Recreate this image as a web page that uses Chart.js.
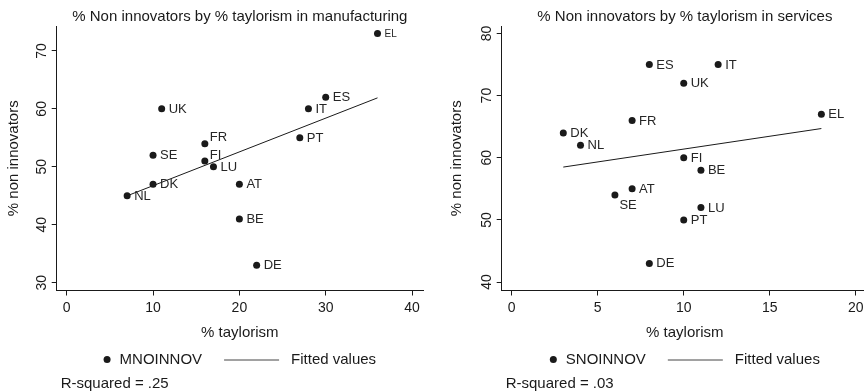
<!DOCTYPE html>
<html>
<head>
<meta charset="utf-8">
<script src="https://cdn.jsdelivr.net/npm/chart.js@4.4.1/dist/chart.umd.min.js"></script>
<style>
  html, body { margin: 0; padding: 0; background: #fff; overflow: hidden; width: 864px; height: 391px; }
  .panel { position: absolute; top: 0; }
  #mfgPanel { left: 0; }
  #svcPanel { left: 445px; }
</style>
</head>
<body>
<div class="panel" id="mfgPanel"><canvas id="mfgChart" width="440" height="391"></canvas></div>
<div class="panel" id="svcPanel"><canvas id="svcChart" width="440" height="391"></canvas></div>
<script>
// manufacturing panel
const mfgCountries = ["EL", "ES", "IT", "UK", "FR", "PT", "SE", "FI", "LU", "DK", "AT", "NL", "BE", "DE"];
const mfgTaylorism = [36, 30, 28, 11, 16, 27, 10, 16, 17, 10, 20, 7, 20, 22];
const mfgNonInnov = [73, 62, 60, 60, 54, 55, 52, 51, 50, 47, 47, 45, 41, 33];
const mfgFitX = [7, 36];
const mfgFitY = [45.0, 61.9];
const mfgXTicks = [0, 10, 20, 30, 40];
const mfgYTicks = [30, 40, 50, 60, 70];

// services panel
const svcCountries = ["ES", "IT", "UK", "EL", "FR", "DK", "NL", "FI", "BE", "AT", "SE", "LU", "PT", "DE"];
const svcTaylorism = [8, 12, 10, 18, 7, 3, 4, 10, 11, 7, 6, 11, 10, 8];
const svcNonInnov = [75, 75, 72, 67, 66, 64, 62, 60, 58, 55, 54, 52, 50, 43];
const svcFitX = [3, 18];
const svcFitY = [58.5, 64.7];
const svcXTicks = [0, 5, 10, 15, 20];
const svcYTicks = [40, 50, 60, 70, 80];

// marker label placement (clock positions, like mlabvpos)
const mfgLabelPos = [3, 3, 3, 3, 2, 3, 3, 2, 3, 3, 3, 3, 3, 3];
const svcLabelPos = [3, 3, 3, 3, 3, 3, 3, 3, 3, 3, 4, 3, 3, 3];
const mfgSmallLabels = ["EL"];

const FONT = '"Liberation Sans", Arial, Helvetica, sans-serif';
const INK = "#1a1a1a";

const clockOffsets = {
  2: { dx: 5, dy: -6 },
  3: { dx: 7, dy: 0.5 },
  4: { dx: 4.5, dy: 10 },
};

const pointLabels = {
  id: "pointLabels",
  afterDatasetsDraw(chart, args, opts) {
    const meta = chart.getDatasetMeta(0);
    const ctx = chart.ctx;
    ctx.save();
    ctx.fillStyle = "#262626";
    ctx.textAlign = "left";
    ctx.textBaseline = "middle";
    meta.data.forEach((pt, i) => {
      const name = opts.names[i];
      const off = clockOffsets[opts.positions[i]];
      const size = opts.small.includes(name) ? 10 : 13;
      ctx.font = `${size}px ${FONT}`;
      ctx.fillText(name, pt.x + off.dx, pt.y + off.dy);
    });
    ctx.restore();
  },
};

// stata-like legend row plus the R-squared note underneath
const stataLegend = {
  id: "stataLegend",
  afterDraw(chart, args, opts) {
    const { ctx, chartArea } = chart;
    const [dots, fit] = chart.data.datasets;
    ctx.save();
    ctx.font = `15px ${FONT}`;
    ctx.fillStyle = INK;
    ctx.textBaseline = "middle";
    ctx.textAlign = "left";
    const w1 = ctx.measureText(dots.label).width;
    const w2 = ctx.measureText(fit.label).width;
    const total = 16 + w1 + 22 + 55 + 12 + w2;
    let x = (chartArea.left + chartArea.right) / 2 - total / 2;
    const y = opts.y;

    ctx.beginPath();
    ctx.arc(x + 3.5, y, 3.5, 0, Math.PI * 2);
    ctx.fill();
    x += 16;
    ctx.fillText(dots.label, x, y);
    x += w1 + 22;
    ctx.strokeStyle = "#444";
    ctx.lineWidth = 1;
    ctx.beginPath();
    ctx.moveTo(x, y + 0.5);
    ctx.lineTo(x + 55, y + 0.5);
    ctx.stroke();
    x += 55 + 12;
    ctx.fillText(fit.label, x, y);

    ctx.fillText(opts.note, chartArea.left + 4, opts.noteY);
    ctx.restore();
  },
};

function toPoints(xs, ys) {
  return xs.map((v, i) => ({ x: v, y: ys[i] }));
}

function axisOptions(min, max, tickValues, extra) {
  return {
    type: "linear",
    min,
    max,
    afterBuildTicks: (scale) => {
      scale.ticks = tickValues.map((v) => ({ value: v }));
    },
    grid: { display: true, drawOnChartArea: false, drawTicks: true, tickLength: 5, color: INK, lineWidth: 1 },
    border: { display: true, color: INK, width: 1 },
    ...extra,
  };
}

function buildChart(canvasId, cfg) {
  return new Chart(document.getElementById(canvasId), {
    type: "scatter",
    data: {
      datasets: [
        {
          label: cfg.seriesName,
          data: toPoints(cfg.x, cfg.y),
          pointRadius: 3.5,
          pointHoverRadius: 3.5,
          backgroundColor: INK,
          borderWidth: 0,
        },
        {
          label: "Fitted values",
          data: toPoints(cfg.fitX, cfg.fitY),
          showLine: true,
          borderColor: INK,
          borderWidth: 1,
          pointRadius: 0,
          fill: false,
        },
      ],
    },
    options: {
      responsive: false,
      animation: false,
      devicePixelRatio: 1,
      layout: { padding: { left: 0, right: 17, top: 0, bottom: 48 } },
      plugins: {
        legend: { display: false },
        tooltip: { enabled: false },
        title: {
          display: true,
          text: cfg.title,
          fullSize: false,
          color: INK,
          font: { family: FONT, size: 15, weight: "normal" },
          padding: { top: 8, bottom: 0 },
        },
        pointLabels: { names: cfg.names, positions: cfg.labelPos, small: cfg.small },
        stataLegend: { y: 359.5, note: cfg.note, noteY: 383.5 },
      },
      scales: {
        x: axisOptions(cfg.xMin, cfg.xMax, cfg.xTicks, {
          position: "bottom",
          afterFit: (scale) => { scale.height = 52.5; },
          ticks: { color: INK, font: { family: FONT, size: 14 }, padding: 4, maxRotation: 0, autoSkip: false },
          title: {
            display: true,
            text: "% taylorism",
            color: INK,
            font: { family: FONT, size: 15 },
            padding: { top: 0, bottom: 1.5 },
          },
        }),
        y: axisOptions(cfg.yMin, cfg.yMax, cfg.yTicks, {
          position: "left",
          afterFit: (scale) => { scale.width = 56.7; },
          ticks: {
            color: INK,
            font: { family: FONT, size: 14 },
            padding: 2,
            minRotation: 90,
            maxRotation: 90,
            crossAlign: "center",
            autoSkip: false,
          },
          title: {
            display: true,
            text: "% non innovators",
            color: INK,
            font: { family: FONT, size: 15 },
            padding: { top: cfg.yTitlePad, bottom: 0 },
          },
        }),
      },
    },
    plugins: [pointLabels, stataLegend],
  });
}

buildChart("mfgChart", {
  title: "% Non innovators by % taylorism in manufacturing",
  seriesName: "MNOINNOV",
  note: "R-squared = .25",
  names: mfgCountries,
  labelPos: mfgLabelPos,
  small: mfgSmallLabels,
  x: mfgTaylorism,
  y: mfgNonInnov,
  fitX: mfgFitX,
  fitY: mfgFitY,
  xTicks: mfgXTicks,
  yTicks: mfgYTicks,
  xMin: -1.16,
  xMax: 41.27,
  yMin: 28.66,
  yMax: 74.3,
  yTitlePad: 5,
});

buildChart("svcChart", {
  title: "% Non innovators by % taylorism in services",
  seriesName: "SNOINNOV",
  note: "R-squared = .03",
  names: svcCountries,
  labelPos: svcLabelPos,
  small: [],
  x: svcTaylorism,
  y: svcNonInnov,
  fitX: svcFitX,
  fitY: svcFitY,
  xTicks: svcXTicks,
  yTicks: svcYTicks,
  xMin: -0.58,
  xMax: 20.71,
  yMin: 38.64,
  yMax: 81.2,
  yTitlePad: 3,
});
</script>
</body>
</html>
